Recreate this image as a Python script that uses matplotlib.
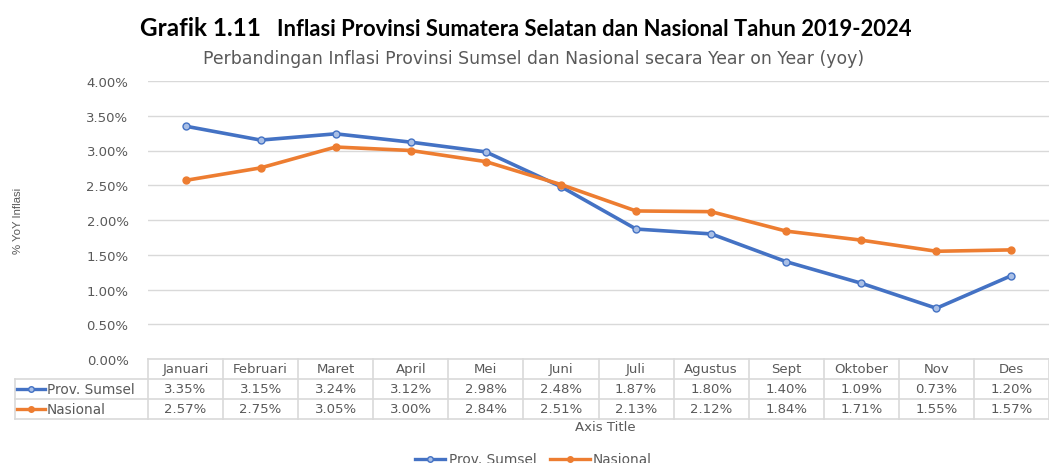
import numpy as np
import matplotlib
matplotlib.use('Agg')
import matplotlib.pyplot as plt
from matplotlib.lines import Line2D

plt.rcParams['font.family'] = ['DejaVu Sans']

# data inflasi yoy (%)
bulan = ['Januari', 'Februari', 'Maret', 'April', 'Mei', 'Juni',
         'Juli', 'Agustus', 'Sept', 'Oktober', 'Nov', 'Des']
sumsel = [3.35, 3.15, 3.24, 3.12, 2.98, 2.48, 1.87, 1.80, 1.40, 1.09, 0.73, 1.20]
nasional = [2.57, 2.75, 3.05, 3.00, 2.84, 2.51, 2.13, 2.12, 1.84, 1.71, 1.55, 1.57]
yticks = [0.0, 0.5, 1.0, 1.5, 2.0, 2.5, 3.0, 3.5, 4.0]

BLUE = '#4472C4'
ORANGE = '#ED7D31'
GRID = '#d9d9d9'
TXT = '#595959'

W, H = 1049, 464
fig = plt.figure(figsize=(W / 100, H / 100), dpi=100)
ax = fig.add_axes([148 / W, 1 - 360 / H, (W - 148) / W, (360 - 82) / H])

x = np.arange(len(bulan))
ax.plot(x, sumsel, color=BLUE, lw=2.6, marker='o', ms=5,
        mfc='#a9bfe6', mec=BLUE, mew=1.0, zorder=3)
ax.plot(x, nasional, color=ORANGE, lw=2.6, marker='o', ms=5,
        mfc=ORANGE, mec=ORANGE, zorder=4)

ax.set_xlim(-0.5, 11.5)
ax.set_ylim(0, 4)
ax.set_yticks(yticks)
ax.set_yticklabels(['%.2f%%' % v for v in yticks], color=TXT, fontsize=9.5)
ax.set_xticks([])
ax.tick_params(axis='y', length=0, pad=14)
ax.grid(axis='y', color=GRID, lw=1)
for s in ax.spines.values():
    s.set_visible(False)
ax.set_axisbelow(True)

# tabel data di bawah grafik
tr = ax.get_xaxis_transform()
def yfrac(py):
    return (360 - py) / (360 - 82)

left = (15 - 148) / ((W - 148) / 12) - 0.5
rows = [360, 380, 400, 420]
ax.plot([-0.5, 11.5], [yfrac(360)] * 2, transform=tr, color=GRID, lw=1.2, clip_on=False)
for py in rows[1:]:
    ax.plot([left, 11.5], [yfrac(py)] * 2, transform=tr, color=GRID, lw=1.2, clip_on=False)
ax.plot([left, left], [yfrac(380), yfrac(420)], transform=tr, color=GRID, lw=1.2, clip_on=False)
for i in range(13):
    ax.plot([i - 0.5, i - 0.5], [yfrac(360), yfrac(420)], transform=tr,
            color=GRID, lw=1.2, clip_on=False)

for i, b in enumerate(bulan):
    ax.text(i, yfrac(370), b, transform=tr, ha='center', va='center',
            fontsize=9.5, color=TXT, clip_on=False)
    ax.text(i, yfrac(390), '%.2f%%' % sumsel[i], transform=tr, ha='center',
            va='center', fontsize=9.5, color=TXT, clip_on=False)
    ax.text(i, yfrac(410), '%.2f%%' % nasional[i], transform=tr, ha='center',
            va='center', fontsize=9.5, color=TXT, clip_on=False)

# kunci legenda di tabel
for py, col, mfc, lab in [(390, BLUE, '#a9bfe6', 'Prov. Sumsel'),
                          (410, ORANGE, ORANGE, 'Nasional')]:
    fig.add_artist(Line2D([17 / W, 45 / W], [1 - py / H] * 2, color=col, lw=2.4))
    fig.add_artist(Line2D([31 / W], [1 - py / H], marker='o', ms=4,
                          mfc=mfc, mec=col, color=col))
    fig.text(47 / W, 1 - py / H, lab, ha='left', va='center', fontsize=9.8, color=TXT)

# judul
fig.text(140 / W, 1 - 29 / H, 'Grafik 1.11', ha='left', va='center',
         fontsize=17.5, fontweight='bold', family=['Lato', 'DejaVu Sans'])
fig.text(277 / W, 1 - 30 / H, 'Inflasi Provinsi Sumatera Selatan dan Nasional Tahun 2019-2024',
         ha='left', va='center', fontsize=15.8, fontweight='bold', family=['Lato', 'DejaVu Sans'])
fig.text(534 / W, 1 - 59 / H,
         'Perbandingan Inflasi Provinsi Sumsel dan Nasional secara Year on Year (yoy)',
         ha='center', va='center', fontsize=12.4, color=TXT)

fig.text(18 / W, 1 - 221 / H, '% YoY Inflasi', rotation=90, ha='center', va='center',
         fontsize=8.2, color=TXT, family=['Liberation Sans', 'DejaVu Sans'])
fig.text(605 / W, 1 - 428 / H, 'Axis Title', ha='center', va='center',
         fontsize=9.5, color=TXT)

# legenda bawah (terpotong di tepi bawah)
ly = 1 - 460 / H
fig.add_artist(Line2D([415 / W, 445 / W], [ly, ly], color=BLUE, lw=2.4))
fig.add_artist(Line2D([430 / W], [ly], marker='o', ms=4, mfc='#a9bfe6', mec=BLUE))
fig.text(449 / W, ly, 'Prov. Sumsel', ha='left', va='center', fontsize=9.8, color=TXT)
fig.add_artist(Line2D([550 / W, 590 / W], [ly, ly], color=ORANGE, lw=2.4))
fig.add_artist(Line2D([570 / W], [ly], marker='o', ms=4, mfc=ORANGE, mec=ORANGE))
fig.text(593 / W, ly, 'Nasional', ha='left', va='center', fontsize=9.8, color=TXT)

fig.savefig('out.png', dpi=100)
